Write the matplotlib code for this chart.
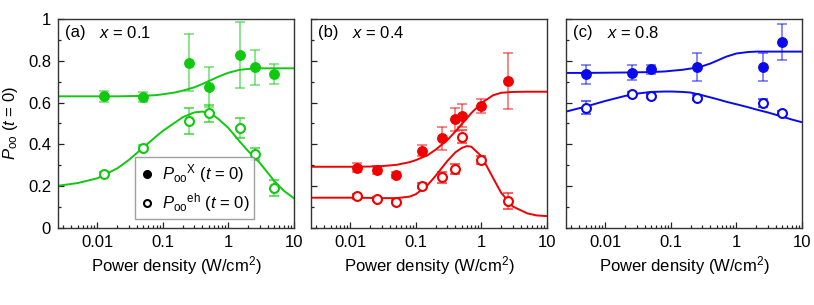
import matplotlib
matplotlib.use("Agg")
import matplotlib.pyplot as plt
from matplotlib.lines import Line2D
from matplotlib.ticker import LogLocator, NullFormatter, FixedLocator

plt.rcParams['font.family'] = ['Liberation Sans', 'DejaVu Sans']
plt.rcParams['mathtext.fontset'] = 'custom'
plt.rcParams['mathtext.rm'] = 'Liberation Sans'
plt.rcParams['mathtext.it'] = 'Liberation Sans:italic'
plt.rcParams['font.size'] = 12

# ---- data ----
# panel (a), x = 0.1
a_x_filled = [0.0125, 0.05, 0.25, 0.5, 1.5, 2.5, 5]
a_y_filled = [0.630, 0.627, 0.791, 0.674, 0.828, 0.769, 0.737]
a_e_filled = [0.025, 0.025, 0.135, 0.095, 0.16, 0.083, 0.05]
a_x_open = [0.0125, 0.05, 0.25, 0.5, 1.5, 2.5, 5]
a_y_open = [0.256, 0.385, 0.510, 0.549, 0.477, 0.353, 0.191]
a_e_open = [0.01, 0.01, 0.062, 0.04, 0.048, 0.03, 0.04]

# panel (b), x = 0.4
b_x_filled = [0.0125, 0.025, 0.05, 0.125, 0.25, 0.4, 0.5, 1.0, 2.5]
b_y_filled = [0.289, 0.278, 0.254, 0.370, 0.429, 0.520, 0.537, 0.584, 0.702]
b_e_filled = [0.02, 0.018, 0.015, 0.025, 0.056, 0.055, 0.055, 0.033, 0.134]
b_x_open = [0.0125, 0.025, 0.05, 0.125, 0.25, 0.4, 0.5, 1.0, 2.5]
b_y_open = [0.153, 0.140, 0.126, 0.202, 0.242, 0.282, 0.437, 0.324, 0.129]
b_e_open = [0.012, 0.01, 0.008, 0.012, 0.025, 0.022, 0.03, 0.02, 0.04]

# panel (c), x = 0.8
c_x_filled = [0.005, 0.025, 0.05, 0.25, 2.5, 5]
c_y_filled = [0.735, 0.743, 0.759, 0.769, 0.770, 0.891]
c_e_filled = [0.047, 0.036, 0.02, 0.066, 0.068, 0.087]
c_x_open = [0.005, 0.025, 0.05, 0.25, 2.5, 5]
c_y_open = [0.576, 0.641, 0.630, 0.624, 0.597, 0.551]
c_e_open = [0.03, 0.01, 0.01, 0.012, 0.02, 0.01]

# fit curves, read at these power densities
fit_x = [0.0025, 0.005, 0.01, 0.02, 0.03, 0.05, 0.08, 0.1, 0.15, 0.2, 0.3,
         0.4, 0.5, 0.6, 0.7, 1, 1.5, 2, 3, 5, 7, 10]
a_fit_filled = [0.630, 0.630, 0.630, 0.630, 0.631, 0.632, 0.636, 0.640, 0.648,
                0.657, 0.673, 0.689, 0.703, 0.714, 0.724, 0.743, 0.757, 0.761,
                0.764, 0.764, 0.764, 0.764]
a_fit_open = [0.202, 0.215, 0.238, 0.285, 0.325, 0.385, 0.440, 0.465, 0.503,
              0.530, 0.553, 0.557, 0.550, 0.537, 0.522, 0.478, 0.412, 0.368,
              0.312, 0.225, 0.178, 0.142]
b_fit_filled = [0.293, 0.293, 0.293, 0.294, 0.296, 0.302, 0.315, 0.325, 0.348,
                0.375, 0.420, 0.462, 0.497, 0.525, 0.550, 0.598, 0.635, 0.647,
                0.651, 0.652, 0.652, 0.652]
b_fit_open = [0.145, 0.145, 0.145, 0.144, 0.143, 0.143, 0.150, 0.162, 0.205,
              0.250, 0.320, 0.362, 0.383, 0.392, 0.389, 0.343, 0.240, 0.168,
              0.103, 0.070, 0.060, 0.057]
c_fit_filled = [0.742, 0.742, 0.743, 0.744, 0.745, 0.746, 0.749, 0.752, 0.757,
                0.763, 0.774, 0.787, 0.800, 0.811, 0.820, 0.835, 0.842, 0.844,
                0.844, 0.844, 0.844, 0.844]
c_fit_open = [0.557, 0.581, 0.608, 0.632, 0.643, 0.651, 0.653, 0.653, 0.651,
              0.648, 0.635, 0.625, 0.617, 0.610, 0.604, 0.592, 0.578, 0.567,
              0.553, 0.533, 0.519, 0.506]

yticks = [0, 0.2, 0.4, 0.6, 0.8, 1.0]
ytick_labels = ['0', '0.2', '0.4', '0.6', '0.8', '1']
xticks = [0.01, 0.1, 1, 10]
xtick_labels = ['0.01', '0.1', '1', '10']

panels = [
    ('(a)', '$x$ = 0.1', '#10c810',
     a_x_filled, a_y_filled, a_e_filled, a_x_open, a_y_open, a_e_open,
     a_fit_filled, a_fit_open),
    ('(b)', '$x$ = 0.4', '#f00000',
     b_x_filled, b_y_filled, b_e_filled, b_x_open, b_y_open, b_e_open,
     b_fit_filled, b_fit_open),
    ('(c)', '$x$ = 0.8', '#0a0aee',
     c_x_filled, c_y_filled, c_e_filled, c_x_open, c_y_open, c_e_open,
     c_fit_filled, c_fit_open),
]

W, H = 814, 305
fig = plt.figure(figsize=(W / 100, H / 100), dpi=100)
lefts = [58, 311, 566]
axes = []
for i, (lab, xlab, col, xf, yf, ef, xo, yo, eo, ff, fo) in enumerate(panels):
    ax = fig.add_axes([lefts[i] / W, (H - 228) / H, 236 / W, 209 / H])
    axes.append(ax)
    ax.plot(fit_x, ff, color=col, lw=1.4, zorder=2)
    ax.plot(fit_x, fo, color=col, lw=1.4, zorder=2)
    ax.errorbar(xf, yf, yerr=ef, fmt='o', ms=6.8, color=col, mfc=col, mec=col,
                ecolor=col, elinewidth=1.1, capsize=3.6, capthick=1.1,
                zorder=3)
    ax.errorbar(xo, yo, yerr=eo, fmt='o', ms=6.4, color=col, mfc='white',
                mec=col, mew=1.5, ecolor=col, elinewidth=1.1, capsize=3.6,
                capthick=1.1, zorder=3)
    # lighten the error bars
    for c in ax.containers:
        for lc in c.lines[1] + c.lines[2]:
            lc.set_alpha(0.6)

    ax.set_xscale('log')
    ax.set_xlim(0.0025, 10)
    ax.set_ylim(0, 1)
    ax.set_xticks(xticks, labels=xtick_labels)
    ax.xaxis.set_minor_locator(LogLocator(base=10, subs=range(2, 10), numticks=20))
    ax.xaxis.set_minor_formatter(NullFormatter())
    ax.yaxis.set_minor_locator(FixedLocator([0.1, 0.3, 0.5, 0.7, 0.9]))
    if i == 0:
        ax.set_yticks(yticks, labels=ytick_labels)
        ax.set_ylabel(r'$P_{\mathrm{oo}}$ ($t$ = 0)', fontsize=12, labelpad=6)
    else:
        ax.set_yticks(yticks, labels=[])
    ax.tick_params(which='both', direction='in', top=False, right=False,
                   width=0.9, colors='#222222', labelcolor='black')
    ax.tick_params(which='major', length=4.5, labelsize=12, pad=5)
    ax.tick_params(which='minor', length=2.5)
    for s in ax.spines.values():
        s.set_linewidth(1.0)
        s.set_color('#333333')
    ax.set_xlabel(r'Power density (W/cm$^2$)', fontsize=12, labelpad=3)
    ax.text(0.03, 0.935, lab, transform=ax.transAxes, fontsize=12,
            va='center', ha='left')
    ax.text(0.175, 0.935, xlab, transform=ax.transAxes, fontsize=12,
            va='center', ha='left')

handles = [
    Line2D([], [], ls='none', marker='o', ms=5.5, color='black'),
    Line2D([], [], ls='none', marker='o', ms=5.0, mfc='white', mec='black',
           mew=1.5),
]
labels = [r'$P_{\mathrm{oo}}{}^{\mathrm{X}}$ ($t$ = 0)',
          r'$P_{\mathrm{oo}}{}^{\mathrm{eh}}$ ($t$ = 0)']
leg = axes[0].legend(handles, labels, loc='lower left',
                     bbox_to_anchor=(0.326, 0.043), fontsize=12,
                     frameon=True, fancybox=False, handlelength=0.8,
                     handletextpad=0.5, borderpad=0.3, labelspacing=0.35,
                     borderaxespad=0)
leg.get_frame().set_edgecolor('#888888')
leg.get_frame().set_linewidth(1.0)

fig.savefig('out.png', dpi=100)
